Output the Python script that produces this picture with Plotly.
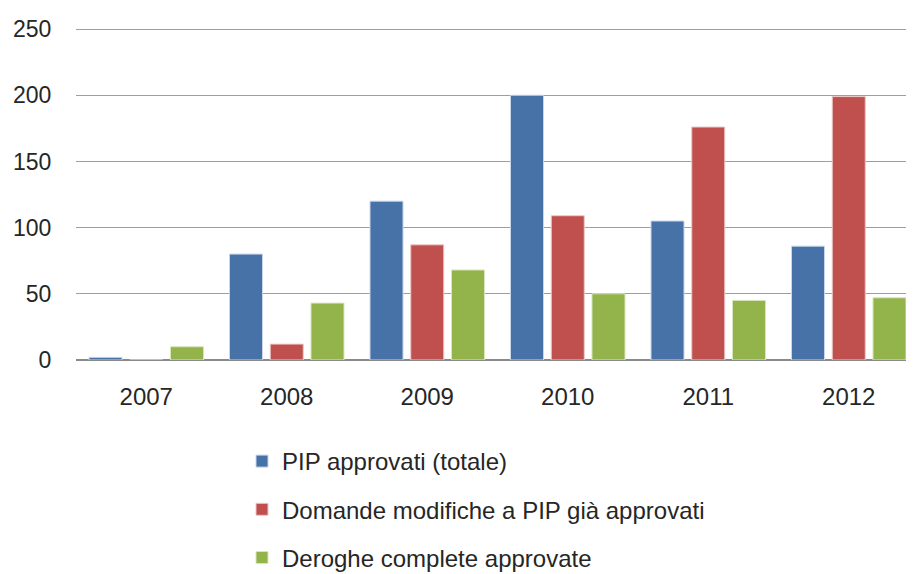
import plotly.graph_objects as go

years = ["2007", "2008", "2009", "2010", "2011", "2012"]
pip_approvati = [2, 80, 120, 200, 105, 86]
domande_modifiche = [0, 12, 87, 109, 176, 199]
deroghe_complete = [10, 43, 68, 50, 45, 47]

series_names = [
    "PIP approvati (totale)",
    "Domande modifiche a PIP già approvati",
    "Deroghe complete approvate",
]
y_ticks = [0, 50, 100, 150, 200, 250]

colors = ["#4672A8", "#C0504E", "#93B44B"]
edges = ["#C9D6E8", "#EBC8C7", "#D8E6BE"]

fig = go.Figure()
for i, (name, vals) in enumerate(zip(series_names,
                                     [pip_approvati, domande_modifiche, deroghe_complete])):
    fig.add_trace(go.Bar(
        x=years, y=vals, name=name, legendgroup=f"g{i}",
        marker=dict(color=colors[i], line=dict(color=edges[i], width=1)),
    ))

FONT = "Liberation Sans"
W, H = 914, 574
L, R, T, B = 68, 3, 20, 222
plot_h = H - T - B
plot_w = W - L - R
fig.update_layout(
    width=W, height=H,
    margin=dict(l=L, r=R, t=T, b=B, autoexpand=False),
    paper_bgcolor="white", plot_bgcolor="white",
    barmode="group", bargap=0.13, bargroupgap=0.19,
    font=dict(family=FONT, size=24, color="#262626"),
    legend=dict(
        x=(234 - L) / plot_w, y=1 - (431 - T) / plot_h,
        xanchor="left", yanchor="top",
        orientation="v", tracegroupgap=14,
        font=dict(family=FONT, size=24, color="#262626"),
        itemclick=False, itemwidth=30,
    ),
    xaxis=dict(
        type="category", range=[-0.5, 5.5],
        showgrid=False, showline=False, zeroline=False,
        ticks="outside", ticklen=15, tickcolor="rgba(0,0,0,0)",
        tickfont=dict(family=FONT, size=24, color="#262626"),
        tickangle=0,
    ),
    yaxis=dict(
        range=[0, 250.8], tickvals=y_ticks,
        showgrid=True, gridcolor="#9E9E9E", gridwidth=1.3,
        zeroline=True, zerolinecolor="#8A8A8A", zerolinewidth=1.5,
        showline=False,
        ticks="outside", ticklen=19, tickcolor="rgba(0,0,0,0)",
        tickfont=dict(family=FONT, size=23, color="#262626"),
    ),
)

fig.write_html("out.html")
